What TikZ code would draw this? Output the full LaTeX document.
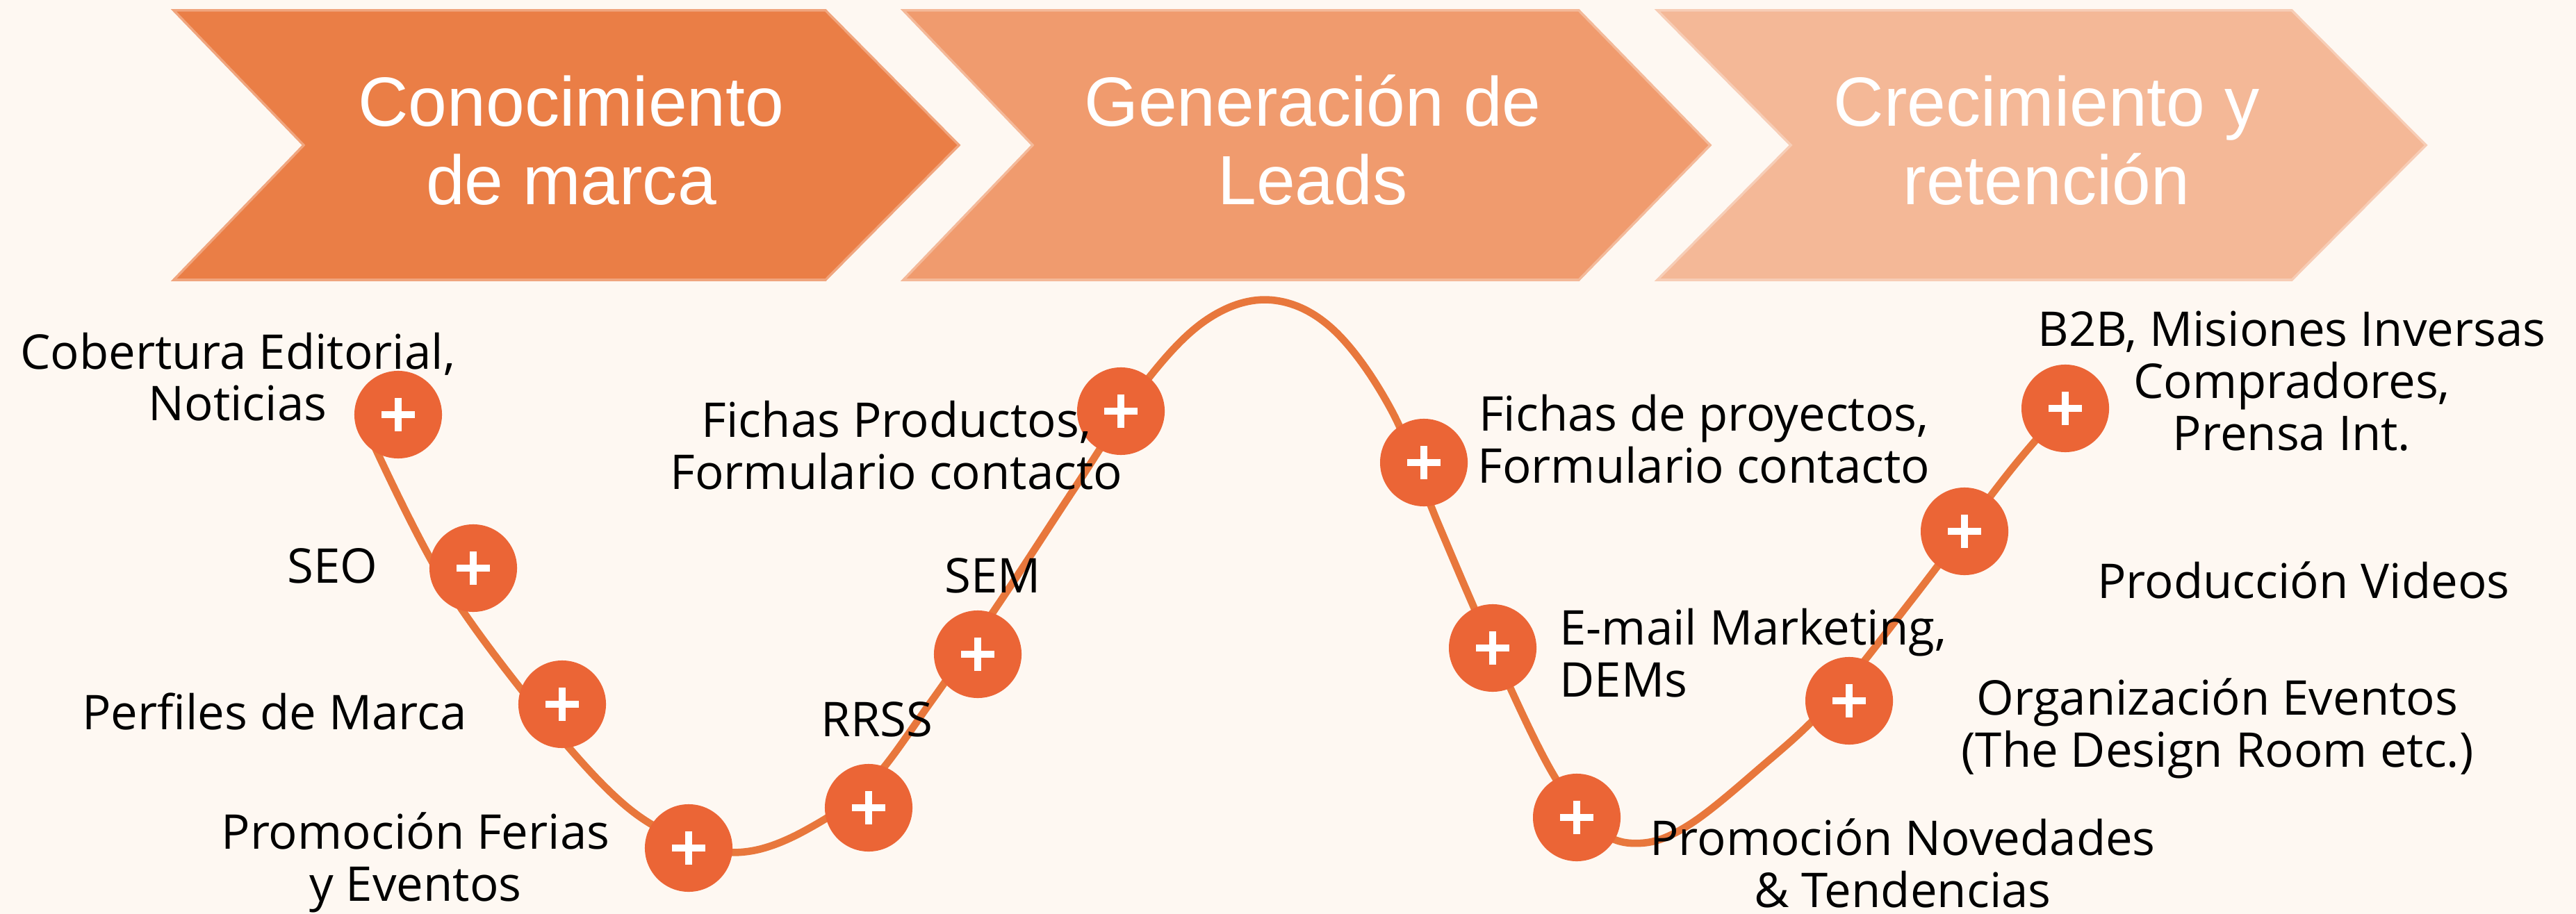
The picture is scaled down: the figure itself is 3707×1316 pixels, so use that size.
\documentclass[tikz,border=0pt]{standalone}
\usepackage{fontspec}
\setmainfont{Open Sans}
\newfontfamily\chevfont{Liberation Sans}
\definecolor{bgcream}{HTML}{FEF8F2}
\definecolor{chevA}{HTML}{EA7E46}
\definecolor{chevB}{HTML}{F09B6E}
\definecolor{chevC}{HTML}{F4B897}
\definecolor{dotorange}{HTML}{EB6536}
\definecolor{waveorange}{HTML}{E8773C}
\tikzset{
  chev/.style={fill=#1, draw=#1!70!white, line width=1pt},
  chevtext/.style={text=white, font=\chevfont\fontsize{28.5}{32.2}\selectfont, align=center, anchor=base},
  dot/.style={circle, fill=dotorange, minimum size=1.26cm, inner sep=0pt,
    path picture={\draw[white, line width=2.8pt, shift={(path picture bounding box.center)}]
      (-24,0) -- (24,0) (0,-24) -- (0,24);}},
  lbl/.style={font=\fontsize{19.6}{21.3}\selectfont, align=center, anchor=base},
  wave/.style={draw=waveorange, line width=3pt, line cap=round}
}

\begin{document}
\begin{tikzpicture}[x=0.01cm, y=-0.01cm]
\fill[bgcream] (0,0) rectangle (3707,1316);
\useasboundingbox (0,0) rectangle (3707,1316);

% stages (multi-line nodes sit on their last baseline)
\draw[chev=chevA] (250,15) -- (1188,15) -- (1380,209) -- (1188,403) -- (250,403) -- (437,209) -- cycle;
\draw[chev=chevB] (1300,15) -- (2272,15) -- (2461,209) -- (2272,403) -- (1300,403) -- (1486,209) -- cycle;
\draw[chev=chevC] (2385,15) -- (3298,15) -- (3491,209) -- (3298,403) -- (2385,403) -- (2577,209) -- cycle;
\node[chevtext] (conoc) at (822,295) {Conocimiento\\de marca};
\node[chevtext] (gener) at (1889,295) {Generación de\\Leads};
\node[chevtext] (creci) at (2945,295) {Crecimiento y\\retención};

% wave
\draw[wave] plot[smooth, tension=0.6] coordinates {
  (540,645) (640,840) (780,1030) (900,1160) (1000,1216) (1076,1226)
  (1160,1195) (1250,1130) (1340,1010) (1440,865) (1545,705) (1650,548)
  (1740,458) (1830,432) (1918,474) (2002,590) (2070,755) (2148,935)
  (2234,1113) (2300,1195) (2361,1214) (2430,1188) (2530,1108) (2630,1015)
  (2750,865) (2891,680) (2960,600)};

% points
\node[dot] (d1) at (573,597) {};
\node[dot] (d2) at (681,818) {};
\node[dot] (d3) at (809,1014) {};
\node[dot] (d4) at (991,1221) {};
\node[dot] (d5) at (1250,1163) {};
\node[dot] (d6) at (1407,942) {};
\node[dot] (d7) at (1613,592) {};
\node[dot] (d8) at (2049,666) {};
\node[dot] (d9) at (2148,933) {};
\node[dot] (d10) at (2269,1177) {};
\node[dot] (d11) at (2661,1009) {};
\node[dot] (d12) at (2827,765) {};
\node[dot] (d13) at (2972,588) {};

% labels
\node[lbl] (lcob) at (342,606) {Cobertura Editorial,\\Noticias};
\node[lbl, anchor=base east] (lseo) at (556,839) {SEO};
\node[lbl, anchor=base east] (lper) at (684,1050) {Perfiles de Marca};
\node[lbl] (lfer) at (598,1297) {Promoción Ferias\\y Eventos};
\node[lbl] (lrrss) at (1262,1060) {RRSS};
\node[lbl] (lsem) at (1429,853) {SEM};
\node[lbl] (lfpr) at (1290,704) {Fichas Productos,\\Formulario contacto};
\node[lbl] (lfpy) at (2452,695) {Fichas de proyectos,\\Formulario contacto};
\node[lbl, align=left, anchor=base west] (lema) at (2232,1003) {E-mail Marketing,\\DEMs};
\node[lbl] (lnov) at (2738,1306) {Promoción Novedades\\\& Tendencias};
\node[lbl] (lorg) at (3191,1104) {Organización Eventos\\(The Design Room etc.)};
\node[lbl] (lvid) at (3315,861) {Producción Videos};
\node[lbl] (lb2b) at (3298,648) {B2B, Misiones Inversas\\Compradores,\\Prensa Int.};
\end{tikzpicture}
\end{document}
